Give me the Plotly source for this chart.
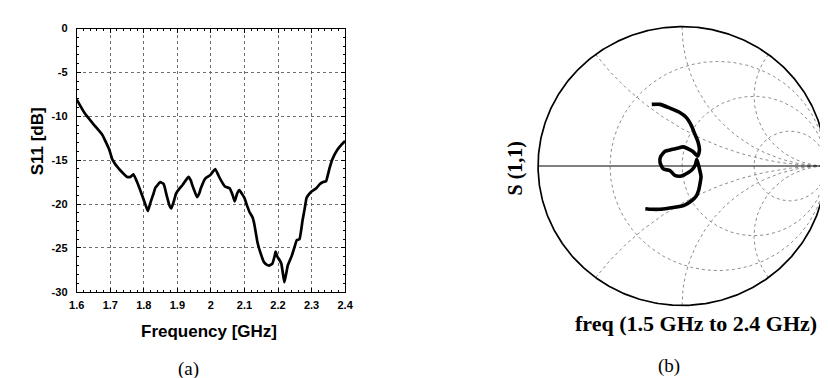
import numpy as np
import plotly.graph_objects as go

# ---------------- data: panel (a) S11 magnitude ----------------
freq_ghz = [1.600, 1.623, 1.652, 1.676, 1.697, 1.706, 1.726, 1.750, 1.760, 1.769,
            1.779, 1.794, 1.808, 1.812, 1.820, 1.828, 1.835, 1.849, 1.859, 1.868,
            1.876, 1.882, 1.890, 1.896, 1.905, 1.916, 1.925, 1.933, 1.940, 1.945,
            1.952, 1.959, 1.965, 1.970, 1.983, 1.998, 2.006, 2.013, 2.022, 2.030,
            2.042, 2.056, 2.065, 2.071, 2.078, 2.085, 2.092, 2.100, 2.108, 2.115,
            2.124, 2.129, 2.134, 2.139, 2.149, 2.158, 2.166, 2.173, 2.183, 2.190,
            2.193, 2.198, 2.205, 2.210, 2.215, 2.219, 2.224, 2.229, 2.241, 2.250,
            2.256, 2.264, 2.273, 2.280, 2.285, 2.292, 2.299, 2.314, 2.325, 2.333,
            2.343, 2.353, 2.362, 2.377, 2.390, 2.400]
s11_db = [-8.1, -9.6, -11.0, -12.1, -13.8, -14.9, -16.0, -16.9, -16.9, -16.6,
          -17.4, -18.9, -20.4, -20.8, -19.8, -18.9, -18.1, -17.5, -17.7, -19.0,
          -20.1, -20.5, -19.6, -18.8, -18.3, -17.8, -17.3, -16.9, -17.3, -17.9,
          -18.6, -19.2, -18.8, -18.2, -17.1, -16.7, -16.3, -16.0, -16.7, -17.3,
          -18.0, -18.2, -19.0, -19.7, -18.8, -18.4, -18.8, -19.3, -20.2, -20.9,
          -21.5, -22.2, -23.3, -24.4, -25.7, -26.6, -26.9, -27.0, -26.8, -25.9,
          -25.4, -26.0, -26.4, -26.8, -28.0, -28.9, -28.0, -27.0, -25.9, -24.8,
          -24.1, -24.0, -21.9, -20.4, -19.3, -18.9, -18.6, -18.2, -17.7, -17.5,
          -17.4, -16.0, -14.9, -13.8, -13.2, -12.8]
x_ticks = [1.6, 1.7, 1.8, 1.9, 2.0, 2.1, 2.2, 2.3, 2.4]
x_tick_labels = ["1.6", "1.7", "1.8", "1.9", "2", "2.1", "2.2", "2.3", "2.4"]
y_ticks = [0, -5, -10, -15, -20, -25, -30]
y_tick_labels = ["0", "-5", "-10", "-15", "-20", "-25", "-30"]

# ---------------- data: panel (b) Smith chart trace (reflection coefficient) ----------------
gamma_re = [-0.210, -0.153, -0.084, -0.016, 0.029, 0.064, 0.087, 0.110, 0.121, 0.110,
            0.075, 0.053, 0.007, -0.027, -0.073, -0.118, -0.149, -0.153, -0.130, -0.084,
            -0.050, -0.005, 0.041, 0.075, 0.094, 0.103, 0.121, 0.132, 0.125, 0.116,
            0.098, 0.064, 0.018, -0.039, -0.096, -0.153, -0.210, -0.255]
gamma_im = [0.442, 0.442, 0.415, 0.384, 0.349, 0.292, 0.234, 0.176, 0.118, 0.072,
            0.104, 0.118, 0.137, 0.130, 0.118, 0.106, 0.067, 0.026, -0.021, -0.033,
            -0.067, -0.072, -0.049, -0.021, 0.014, 0.049, -0.021, -0.078, -0.125, -0.172,
            -0.217, -0.251, -0.280, -0.294, -0.303, -0.310, -0.310, -0.306]
r_circles = [1/3, 1.0, 3.0]
x_arcs = [0.5, 1.0, 2.0]

W, H = 828, 378
def px(v):
    return v / W
def py(v):
    return 1 - v / H

fig = go.Figure()

# panel (a)
fig.add_trace(go.Scatter(x=freq_ghz, y=s11_db, mode="lines",
                         line=dict(color="black", width=2.7, shape="spline", smoothing=0.4),
                         xaxis="x", yaxis="y", hoverinfo="skip"))

# panel (b) grid
grid_style = dict(color="#8c8c8c", width=1, dash="dot")
for r in r_circles:
    th = np.linspace(-np.pi / 2 + 1e-4, np.pi / 2 - 1e-4, 400)
    z = r + 1j * np.tan(th)
    g = (z - 1) / (z + 1)
    fig.add_trace(go.Scatter(x=g.real, y=g.imag, mode="lines", line=grid_style,
                             xaxis="x2", yaxis="y2", hoverinfo="skip"))
for xv in x_arcs:
    for s in (1, -1):
        rr = np.concatenate([np.linspace(0, 5, 300), np.logspace(np.log10(5.01), 4, 200)])
        z = rr + 1j * s * xv
        g = (z - 1) / (z + 1)
        fig.add_trace(go.Scatter(x=g.real, y=g.imag, mode="lines", line=grid_style,
                                 xaxis="x2", yaxis="y2", hoverinfo="skip"))
# horizontal (real) axis
fig.add_trace(go.Scatter(x=[-1, 1], y=[0, 0], mode="lines",
                         line=dict(color="black", width=1.1),
                         xaxis="x2", yaxis="y2", hoverinfo="skip"))
# rim
t = np.linspace(0, 2 * np.pi, 500)
fig.add_trace(go.Scatter(x=np.cos(t), y=np.sin(t), mode="lines",
                         line=dict(color="black", width=1.7),
                         xaxis="x2", yaxis="y2", hoverinfo="skip"))
# S11 trace
fig.add_trace(go.Scatter(x=gamma_re, y=gamma_im, mode="lines",
                         line=dict(color="black", width=3.6, shape="spline", smoothing=0.6),
                         xaxis="x2", yaxis="y2", hoverinfo="skip"))

tickfont = dict(family="Liberation Sans", size=11, color="black", weight="bold")
common_ax = dict(showline=True, linecolor="black", linewidth=1, mirror="ticks",
                 ticks="inside", ticklen=4, tickcolor="black", showgrid=True,
                 gridcolor="#6e6e6e", gridwidth=1, griddash="dot", zeroline=False,
                 tickfont=tickfont)

fig.update_layout(
    width=W, height=H, margin=dict(l=0, r=0, t=0, b=0),
    paper_bgcolor="white", plot_bgcolor="white", showlegend=False,
    xaxis=dict(domain=[px(62), px(336)], range=[1.6, 2.4], tickvals=x_ticks,
               ticktext=x_tick_labels, anchor="y", ticklabelstandoff=3,
               minor=dict(dtick=0.02, ticks="inside", ticklen=2, tickcolor="black", showgrid=False),
               **common_ax),
    yaxis=dict(domain=[py(287), py(15)], range=[-30, 0], tickvals=y_ticks,
               ticktext=y_tick_labels, anchor="x", ticklabelstandoff=6,
               minor=dict(dtick=1, ticks="inside", ticklen=2, tickcolor="black", showgrid=False),
               **common_ax),
    xaxis2=dict(domain=[px(527), 1], range=[(527 - 680) / 147, (828 - 680) / 147],
                visible=False, anchor="y2"),
    yaxis2=dict(domain=[py(306), py(8)], range=[(157 - 306) / 144, (157 - 8) / 144],
                visible=False, anchor="x2"),
)

sans_b = dict(family="Liberation Sans", size=17, color="black", weight="bold")
serif_b = dict(family="Liberation Serif", size=22, color="black", weight="bold")
serif = dict(family="Liberation Serif", size=19, color="black")
ann = [
    dict(text="S11 [dB]", x=px(22), y=py(132), textangle=-90, font=sans_b),
    dict(text="Frequency [GHz]", x=px(197.5), y=py(328), font=sans_b),
    dict(text="(a)", x=px(176), y=py(367), font=serif),
    dict(text="S (1,1)", x=px(510), y=py(160), textangle=-90,
         font=dict(family="Liberation Serif", size=20, color="black", weight="bold")),
    dict(text="freq (1.5 GHz to 2.4 GHz)", x=px(694), y=py(320), font=serif_b),
    dict(text="(b)", x=px(667), y=py(364), font=serif),
]
for a in ann:
    fig.add_annotation(xref="paper", yref="paper", showarrow=False,
                       xanchor="center", yanchor="middle", **a)

fig.write_html("out.html")
